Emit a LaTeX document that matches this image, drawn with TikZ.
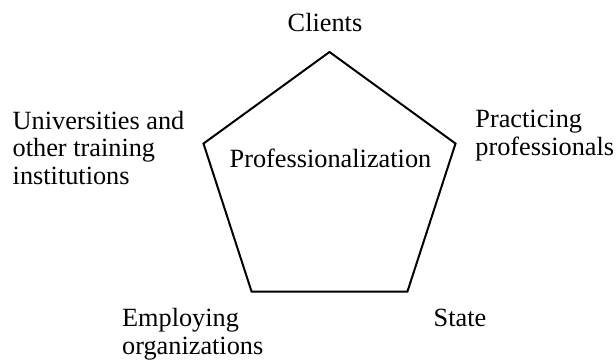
\documentclass[tikz,border=0pt]{standalone}
\usepackage{fontspec}
\setmainfont{Liberation Serif}
\usetikzlibrary{calc}

\begin{document}
\begin{tikzpicture}[x=0.5pt, y=0.5pt,
  every node/.style={inner sep=0pt, align=left, font=\fontsize{13.15}{13.75}\selectfont},
  cornerlabel/.style={anchor=base west}]

\useasboundingbox (0,0) rectangle (616,360);

% Corners of the pentagon
\coordinate (mid) at (329.5,175.5);
\foreach \i/\a in {1/90, 2/162, 3/234, 4/306, 5/18}
{
     \coordinate (v\i) at ($(mid)+(\a:132.5)$);
}

\draw[line width=1pt, line join=miter] (v1) -- (v2) -- (v3) -- (v4) -- (v5) -- cycle;

% Labels (placed at the baseline of their last line)

\node[anchor=base] (prof) at (330.5,193) {Professionalization};

\node[anchor=base] (clients)    at (325,328.3) {Clients};
\node[cornerlabel] (practicing) at (475,205) {Practicing\\professionals};
\node[cornerlabel] (state)      at (433.3,33.3) {State};
\node[cornerlabel] (employing)  at (121.7,5.7) {Employing\\organizations};
\node[cornerlabel] (univ)       at (12.3,175.7) {Universities and\\other training\\institutions};
\end{tikzpicture}
\end{document}
